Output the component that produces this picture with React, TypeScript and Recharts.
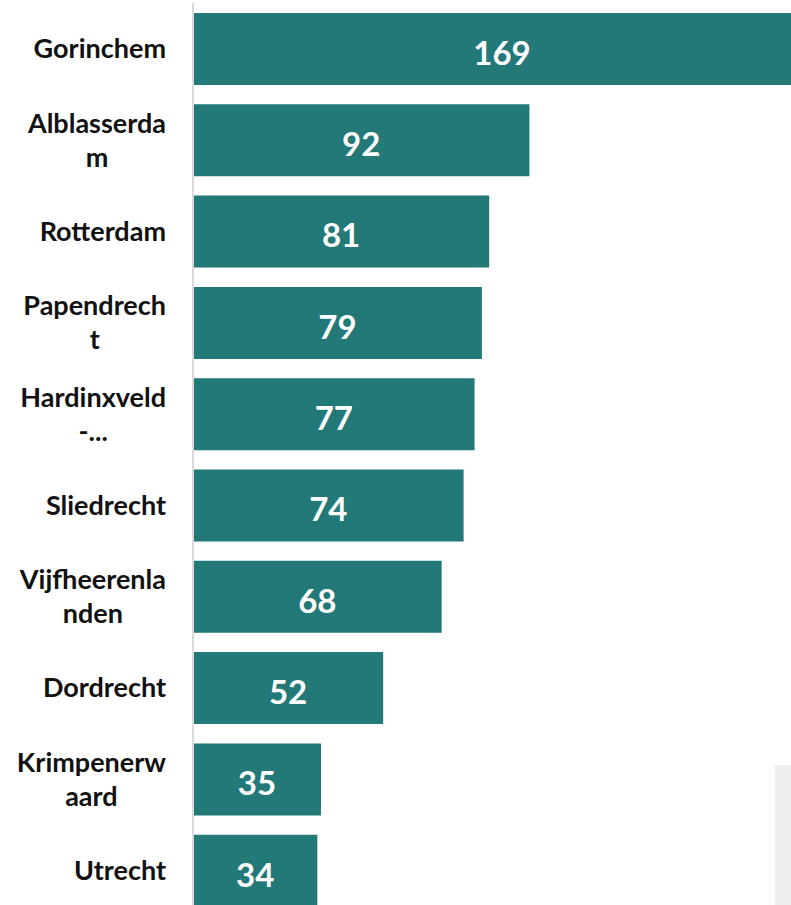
import { BarChart, Bar, XAxis, YAxis, LabelList } from "recharts";

const CITIES = [
  "Gorinchem",
  "Alblasserdam",
  "Rotterdam",
  "Papendrecht",
  "Hardinxveld-Giessendam",
  "Sliedrecht",
  "Vijfheerenlanden",
  "Dordrecht",
  "Krimpenerwaard",
  "Utrecht",
];

// labels as they wrap in the original
const TICK_LABELS = [
  "Gorinchem",
  "Alblasserda\nm",
  "Rotterdam",
  "Papendrech\nt",
  "Hardinxveld\n-...",
  "Sliedrecht",
  "Vijfheerenla\nnden",
  "Dordrecht",
  "Krimpenerw\naard",
  "Utrecht",
];

const COUNTS = [169, 92, 81, 79, 77, 74, 68, 52, 35, 34];

const data = CITIES.map((city, i) => ({
  city,
  label: TICK_LABELS[i],
  count: COUNTS[i],
}));

const FONT = "Lato, 'Open Sans', sans-serif";
const TICK_SIZE = 27;

let ctx: CanvasRenderingContext2D | null = null;
function measure(text: string) {
  if (!ctx) ctx = document.createElement("canvas").getContext("2d");
  if (!ctx) return text.length * 13;
  ctx.font = `bold ${TICK_SIZE}px Lato`;
  return ctx.measureText(text).width;
}

const CityTick = (props: any) => {
  const { y, payload } = props;
  const idx = CITIES.indexOf(payload.value);
  const lines = (TICK_LABELS[idx] ?? payload.value).split("\n");
  const right = 166;
  const w = Math.max(...lines.map(measure));
  const cx = right - w / 2;
  const lh = 34;
  const start = y - ((lines.length - 1) * lh) / 2;
  return (
    <g>
      {lines.map((l: string, i: number) => (
        <text
          key={i}
          x={cx}
          y={start + i * lh}
          dy="0.36em"
          textAnchor="middle"
          fill="#111"
          fontFamily={FONT}
          fontWeight="bold"
          fontSize={TICK_SIZE}
        >
          {l}
        </text>
      ))}
    </g>
  );
};

const ValueLabel = (props: any) => {
  const { x, y, width, height, value } = props;
  return (
    <text
      x={x + width / 2}
      y={y + height / 2 + 4}
      dy="0.36em"
      textAnchor="middle"
      fill="#fff"
      fontFamily={FONT}
      fontWeight="bold"
      fontSize={33}
    >
      {value}
    </text>
  );
};

export default function App() {
  return (
    <div
      style={{
        position: "absolute",
        left: 0,
        top: 0,
        width: 791,
        height: 905,
        overflow: "hidden",
        background: "#fff",
      }}
    >
      <BarChart
        width={811}
        height={920}
        data={data}
        layout="vertical"
        margin={{ top: 3, right: 0, bottom: 4, left: 0 }}
      >
        <XAxis type="number" domain={[0, 169]} hide />
        <YAxis
          type="category"
          dataKey="city"
          width={193}
          axisLine={{ stroke: "#d9d9d9", strokeWidth: 2 }}
          tickLine={false}
          tick={<CityTick />}
          interval={0}
        />
        <Bar dataKey="count" fill="#237878" barSize={72} isAnimationActive={false}>
          <LabelList dataKey="count" content={<ValueLabel />} />
        </Bar>
      </BarChart>
      <div
        style={{
          position: "absolute",
          left: 775,
          top: 765,
          width: 16,
          height: 140,
          background: "#efefef",
        }}
      />
    </div>
  );
}
